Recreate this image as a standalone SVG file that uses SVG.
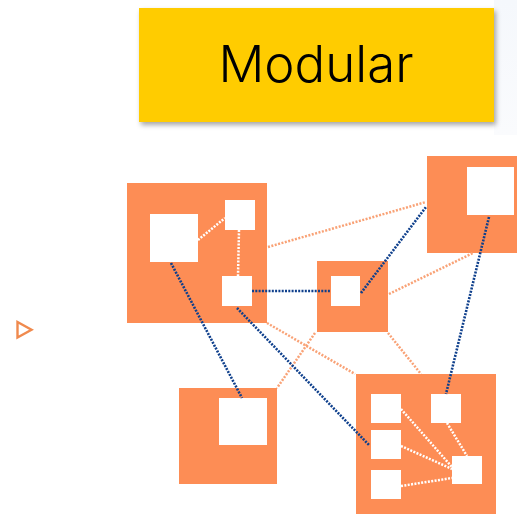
<svg xmlns="http://www.w3.org/2000/svg" width="517" height="516" viewBox="0 0 517 516">
<defs>
<filter id="sh" x="-10%" y="-10%" width="125%" height="130%">
<feGaussianBlur in="SourceAlpha" stdDeviation="2.5"/>
<feOffset dx="2" dy="3" result="b"/>
<feFlood flood-color="#000" flood-opacity="0.35"/>
<feComposite in2="b" operator="in"/>
<feMerge><feMergeNode/><feMergeNode in="SourceGraphic"/></feMerge>
</filter>
<linearGradient id="fade" x1="0" y1="0" x2="0" y2="1">
<stop offset="0" stop-color="#F5F8FC"/>
<stop offset="1" stop-color="#FAFBFD"/>
</linearGradient>
</defs>
<style>
.box{fill:#FD8D55}
.in{fill:#FFFFFF}
.blue{stroke:#0E3F8C;stroke-width:2.6;stroke-dasharray:2 1.3;fill:none}
.org{stroke:#F9A276;stroke-width:2.5;stroke-dasharray:2 1.5;fill:none}
.wht{stroke:#FFFFFF;stroke-width:2.5;stroke-dasharray:2 1.4;fill:none}
</style>
<rect width="517" height="516" fill="#FFFFFF"/>
<rect x="494" y="0" width="23" height="135" fill="url(#fade)"/>
<g id="title" filter="url(#sh)">
<rect x="139" y="8" width="355" height="114" fill="#FFCC00"/>
</g>
<text x="316" y="82" text-anchor="middle" font-family="Inter, 'Noto Sans', sans-serif" font-size="51" font-weight="300" fill="#000">Modular</text>
<g id="nodeA">
<rect class="box" x="127" y="183" width="140" height="140"/>
<rect class="in" x="150" y="214" width="48" height="48"/>
<rect class="in" x="225" y="200" width="30" height="30"/>
<rect class="in" x="222" y="276" width="30" height="30"/>
<line class="wht" x1="198" y1="240" x2="225" y2="218"/>
<line class="wht" x1="239" y1="230" x2="238" y2="276"/>
</g>
<g id="nodeB">
<rect class="box" x="317" y="261" width="71" height="71"/>
<rect class="in" x="331" y="276" width="29" height="30"/>
</g>
<g id="nodeC">
<rect class="box" x="427" y="156" width="90" height="97"/>
<rect class="in" x="467" y="167" width="47" height="48"/>
</g>
<g id="nodeD">
<rect class="box" x="179" y="388" width="98" height="96"/>
<rect class="in" x="219" y="398" width="48" height="47"/>
</g>
<g id="nodeE">
<rect class="box" x="356" y="374" width="140" height="140"/>
<line class="wht" x1="401" y1="409" x2="452" y2="467"/>
<line class="wht" x1="401" y1="446" x2="452" y2="469"/>
<line class="wht" x1="401" y1="486" x2="452" y2="478"/>
<line class="wht" x1="447" y1="423" x2="467" y2="456"/>
<rect class="in" x="371" y="394" width="30" height="29"/>
<rect class="in" x="371" y="430" width="30" height="29"/>
<rect class="in" x="371" y="470" width="30" height="29"/>
<rect class="in" x="431" y="394" width="30" height="29"/>
<rect class="in" x="452" y="456" width="30" height="28"/>
</g>
<g id="connectors">
<line class="org" x1="268" y1="247" x2="426" y2="202"/>
<line class="org" x1="389" y1="294" x2="473" y2="253"/>
<line class="org" x1="267" y1="323" x2="355" y2="374"/>
<line class="org" x1="315" y1="333" x2="277" y2="388"/>
<line class="org" x1="388" y1="333" x2="421" y2="374"/>
<line class="blue" x1="171" y1="263" x2="242" y2="398"/>
<line class="blue" x1="237" y1="308" x2="369" y2="445"/>
<line class="blue" x1="252" y1="291" x2="330" y2="291"/>
<line class="blue" x1="361" y1="293" x2="426" y2="207"/>
<line class="blue" x1="489" y1="217" x2="446" y2="394"/>
</g>
<g id="marker">
<polygon points="17.5,322 17.5,337.5 31.5,329.8" fill="none" stroke="#F08A4E" stroke-width="2.4" stroke-linejoin="miter"/>
</g>
</svg>
